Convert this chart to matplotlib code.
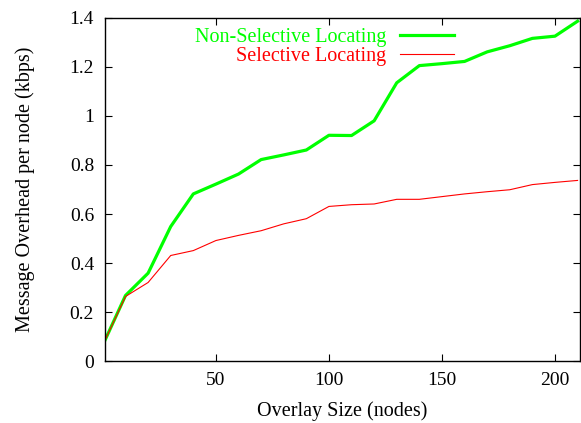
import matplotlib.pyplot as plt
from matplotlib.ticker import FuncFormatter

plt.rcParams['font.family'] = ['Liberation Serif', 'DejaVu Serif']

overlay_size = [1, 10, 20, 30, 40, 50, 60, 70, 80, 90, 100, 110, 120, 130,
                140, 150, 160, 170, 180, 190, 200, 210]
non_selective = [0.087, 0.268, 0.359, 0.549, 0.682, 0.722, 0.763, 0.822, 0.841,
                 0.861, 0.921, 0.920, 0.980, 1.135, 1.205, 1.213, 1.222, 1.261,
                 1.286, 1.316, 1.325, 1.386]
selective = [0.087, 0.264, 0.321, 0.431, 0.451, 0.492, 0.513, 0.532, 0.560,
             0.581, 0.631, 0.638, 0.641, 0.660, 0.660, 0.671, 0.682, 0.691,
             0.699, 0.720, 0.729, 0.737]

x_ticks = [50, 100, 150, 200]
y_ticks = [0, 0.2, 0.4, 0.6, 0.8, 1.0, 1.2, 1.4]

fig = plt.figure(figsize=(5.81, 4.23), dpi=100)
ax = fig.add_axes([0.181, 0.146, 0.817, 0.812])

ax.plot(overlay_size, non_selective, color='#00ff00', linewidth=2.3,
        label='Non-Selective Locating')
ax.plot(overlay_size, selective, color='#ff0000', linewidth=0.8,
        label='Selective Locating')

ax.set_xlim(1, 211)
ax.set_ylim(0, 1.4)
ax.set_xticks(x_ticks)
ax.set_yticks(y_ticks)
ax.yaxis.set_major_formatter(FuncFormatter(lambda v, p: f'{v:g}'))
ax.tick_params(direction='in', top=True, right=True, length=5, width=0.8,
               labelsize=14, pad=8)
for s in ax.spines.values():
    s.set_linewidth(1.0)

ax.set_xlabel('Overlay Size (nodes)', fontsize=14.5, labelpad=8.5)
ax.set_ylabel('Message Overhead per node (kbps)', fontsize=14.5, labelpad=25)

ax.legend(loc='upper right', bbox_to_anchor=(0.735, 0.971), frameon=False,
          markerfirst=False, labelcolor='linecolor', fontsize=14.5,
          handlelength=2.7, handletextpad=0.65, borderpad=0, borderaxespad=0,
          labelspacing=0.0)

fig.savefig('out.png', dpi=100)
